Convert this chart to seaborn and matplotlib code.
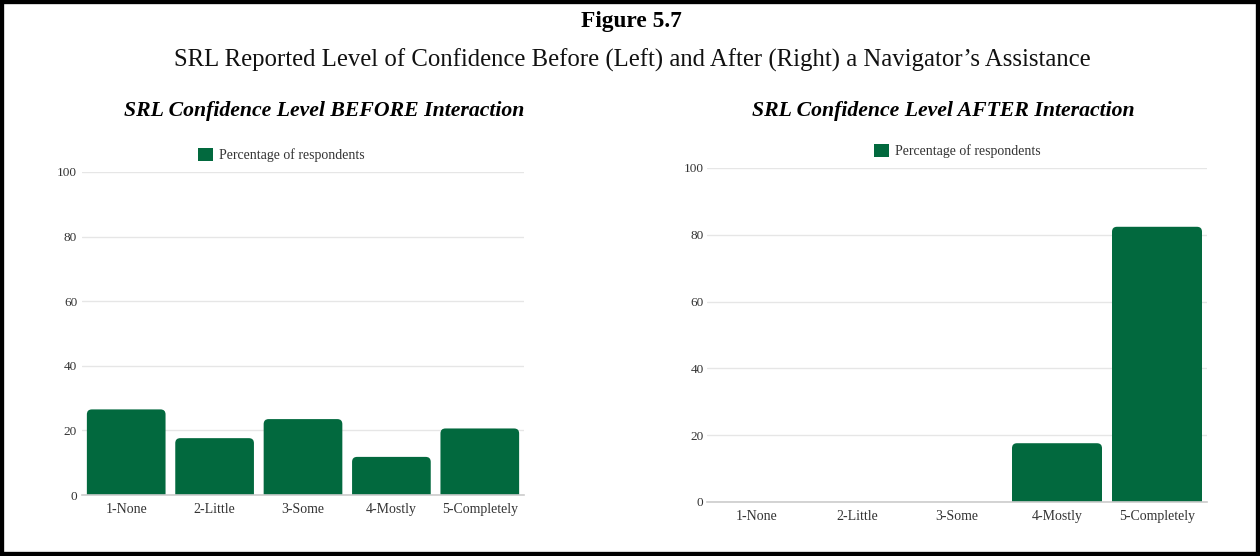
import matplotlib
matplotlib.use("Agg")
import matplotlib.pyplot as plt
import seaborn as sns
import pandas as pd
from matplotlib.patches import FancyBboxPatch, Patch, Rectangle

# Survey responses (share of respondents, %)
categories = ["1-None", "2-Little", "3-Some", "4-Mostly", "5-Completely"]
before_pct = [26.5, 17.6, 23.5, 11.8, 20.6]
after_pct = [0.0, 0.0, 0.0, 17.6, 82.4]
y_ticks = [0, 20, 40, 60, 80, 100]

fig_title = "Figure 5.7"
fig_subtitle = ("SRL Reported Level of Confidence Before (Left) and After (Right) "
                "a Navigator\u2019s Assistance")
left_title = "SRL Confidence Level BEFORE Interaction"
right_title = "SRL Confidence Level AFTER Interaction"
series_name = "Percentage of respondents"

GREEN = "#02693e"
GRID = "#e6e6e6"
BASE = "#cccccc"
TEXT = "#333333"

sns.set_style("white")
plt.rcParams["font.family"] = ["Liberation Serif", "DejaVu Serif"]

fig = plt.figure(figsize=(12.6, 5.56), dpi=100)

ax_l = fig.add_axes([82 / 1260, 1 - 495 / 556, 442 / 1260, 323 / 556])
ax_r = fig.add_axes([707 / 1260, 1 - 502 / 556, 500 / 1260, 334 / 556])


def round_tops(ax, radius_px=5):
    """Swap the plain bars for versions with rounded top corners."""
    inv = ax.transData.inverted()
    p0 = inv.transform((0, 0))
    p1 = inv.transform((1, 1))
    dx = p1[0] - p0[0]
    dy = p1[1] - p0[1]
    for bar in list(ax.patches):
        x, w, h = bar.get_x(), bar.get_width(), bar.get_height()
        bar.remove()
        if h <= 0:
            continue
        pad_y = radius_px * dy
        ax.add_patch(FancyBboxPatch(
            (x, -pad_y), w, h + pad_y,
            boxstyle=f"round,pad=0,rounding_size={radius_px * dx}",
            mutation_aspect=dy / dx, fc=GREEN, ec="none", zorder=2))


def style_panel(ax, values, width, legend_xy, tick_pad):
    df = pd.DataFrame({"level": categories, "pct": values})
    sns.barplot(data=df, x="level", y="pct", color=GREEN, width=width,
                saturation=1, ax=ax)
    ax.set_ylim(0, 100)
    ax.set_xlim(-0.5, len(categories) - 0.5)
    ax.set_yticks(y_ticks)
    ax.set_xlabel("")
    ax.set_ylabel("")
    ax.set_axisbelow(True)
    ax.grid(axis="y", color=GRID, lw=1)
    ax.grid(axis="x", visible=False)
    for side in ("top", "left", "right"):
        ax.spines[side].set_visible(False)
    ax.spines["bottom"].set_color(BASE)
    ax.spines["bottom"].set_linewidth(1.2)
    ax.spines["bottom"].set_zorder(3)
    ax.tick_params(axis="both", length=0, labelcolor=TEXT)
    ax.tick_params(axis="x", labelsize=10, pad=6)
    ax.tick_params(axis="y", labelsize=9.5, pad=tick_pad)
    round_tops(ax)
    ax.set_ylim(0, 100)
    ax.set_xlim(-0.5, len(categories) - 0.5)
    handle = Patch(facecolor=GREEN, edgecolor="none", label=series_name)
    fig.legend(handles=[handle], loc="center", bbox_to_anchor=legend_xy,
               frameon=False, fontsize=10, handlelength=1.1, handleheight=1.1,
               handletextpad=0.4, labelcolor=TEXT)


style_panel(ax_l, before_pct, 0.89, (281 / 1260, 1 - 155 / 556), 3.5)
style_panel(ax_r, after_pct, 0.90, (957 / 1260, 1 - 151 / 556), 2.5)

fig.text(631 / 1260, 1 - 22 / 556, fig_title, ha="center", va="center",
         fontsize=16.8, fontweight="bold", color="black")
fig.text(632 / 1260, 1 - 60 / 556, fig_subtitle, ha="center", va="center",
         fontsize=17.8, color="#111111")
fig.text(324 / 1260, 1 - 111 / 556, left_title, ha="center", va="center",
         fontsize=15.7, fontweight="bold", fontstyle="italic", color="black")
fig.text(943 / 1260, 1 - 111 / 556, right_title, ha="center", va="center",
         fontsize=15.7, fontweight="bold", fontstyle="italic", color="black")

# page-style black frame
fig.patches.append(Rectangle((0, 0), 1, 1, transform=fig.transFigure,
                             fill=False, ec="black", lw=6, zorder=10))

fig.savefig("out.png", dpi=100, facecolor="white")
